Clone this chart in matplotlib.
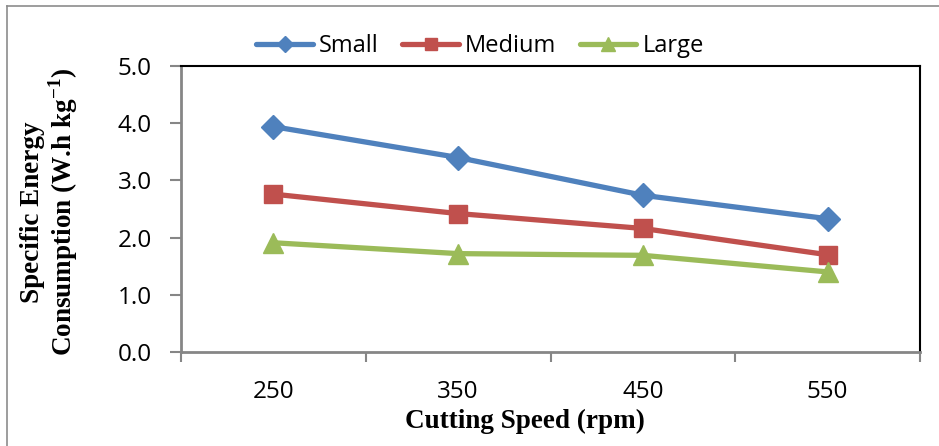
import matplotlib
matplotlib.use('Agg')
import matplotlib.pyplot as plt
from matplotlib.lines import Line2D

# Data
speeds = ['250', '350', '450', '550']
small = [3.94, 3.40, 2.74, 2.33]
medium = [2.76, 2.42, 2.16, 1.70]
large = [1.91, 1.72, 1.69, 1.40]
y_ticks = [0.0, 1.0, 2.0, 3.0, 4.0, 5.0]

plt.rcParams['mathtext.fontset'] = 'custom'
plt.rcParams['mathtext.rm'] = 'Liberation Serif:bold'
plt.rcParams['mathtext.bf'] = 'Liberation Serif:bold'

W, H = 939, 446
fig = plt.figure(figsize=(W / 100, H / 100), dpi=100)
ax = fig.add_axes([181 / W, 1 - 352 / H, (920 - 181) / W, (352 - 66) / H])

x = list(range(len(speeds)))
series = [
    ('Small', small, '#4F81BD', 'D', 12.5),
    ('Medium', medium, '#C0504D', 's', 13.5),
    ('Large', large, '#9BBB59', '^', 14.5),
]
for name, vals, color, marker, ms in series:
    ax.plot(x, vals, color=color, lw=3.8, marker=marker, markersize=ms,
            markeredgecolor=color, label=name, solid_capstyle='round')

ax.set_xlim(-0.5, len(speeds) - 0.5)
ax.set_ylim(0, 5)
ax.set_yticks(y_ticks)
ax.set_yticklabels([f'{v:.1f}' for v in y_ticks])
ax.set_xticks(x)
ax.set_xticklabels(speeds)
ax.set_xticks([i - 0.5 for i in range(len(speeds) + 1)], minor=True)

for lab in ax.get_xticklabels() + ax.get_yticklabels():
    lab.set_fontfamily('Open Sans')
    lab.set_fontsize(17.5)

ax.tick_params(axis='x', which='major', length=0, pad=20)
ax.tick_params(axis='x', which='minor', length=7, width=1.5, color='#868686')
ax.tick_params(axis='y', which='major', length=8, width=1.5, color='#868686', pad=13)

for side in ['left', 'bottom']:
    ax.spines[side].set_color('#868686')
    ax.spines[side].set_linewidth(2)
for side in ['top', 'right']:
    ax.spines[side].set_color('black')
    ax.spines[side].set_linewidth(1.5)

ax.set_xlabel('Cutting Speed (rpm)', fontfamily='Liberation Serif', fontweight='bold',
              fontsize=19.5)
ax.xaxis.set_label_coords((525 - 181) / (920 - 181), -0.20)
fig.text(33 / W, 1 - 212 / H, 'Specific Energy', rotation=90, ha='center', va='center',
         fontfamily='Liberation Serif', fontweight='bold', fontsize=19.5)
fig.text(63 / W, 1 - 212 / H, 'Consumption (W.h kg$^{-1}$)', rotation=90,
         ha='center', va='center', fontfamily='Liberation Serif', fontweight='bold',
         fontsize=19.5)

leg = fig.legend(loc='center', bbox_to_anchor=(480 / W, 1 - 46 / H), ncol=3,
                 frameon=False, prop={'family': 'Open Sans', 'size': 17},
                 handlelength=2.4, handletextpad=0.25, columnspacing=1.0,
                 markerscale=0.65)

# outer chart border (cut at right and bottom in the reference)
fig.add_artist(Line2D([7 / W, 1], [1 - 6 / H, 1 - 6 / H], color='#8c8c8c', lw=1.2))
fig.add_artist(Line2D([7 / W, 7 / W], [0, 1 - 6 / H], color='#8c8c8c', lw=1.2))

fig.savefig('out.png', dpi=100)
